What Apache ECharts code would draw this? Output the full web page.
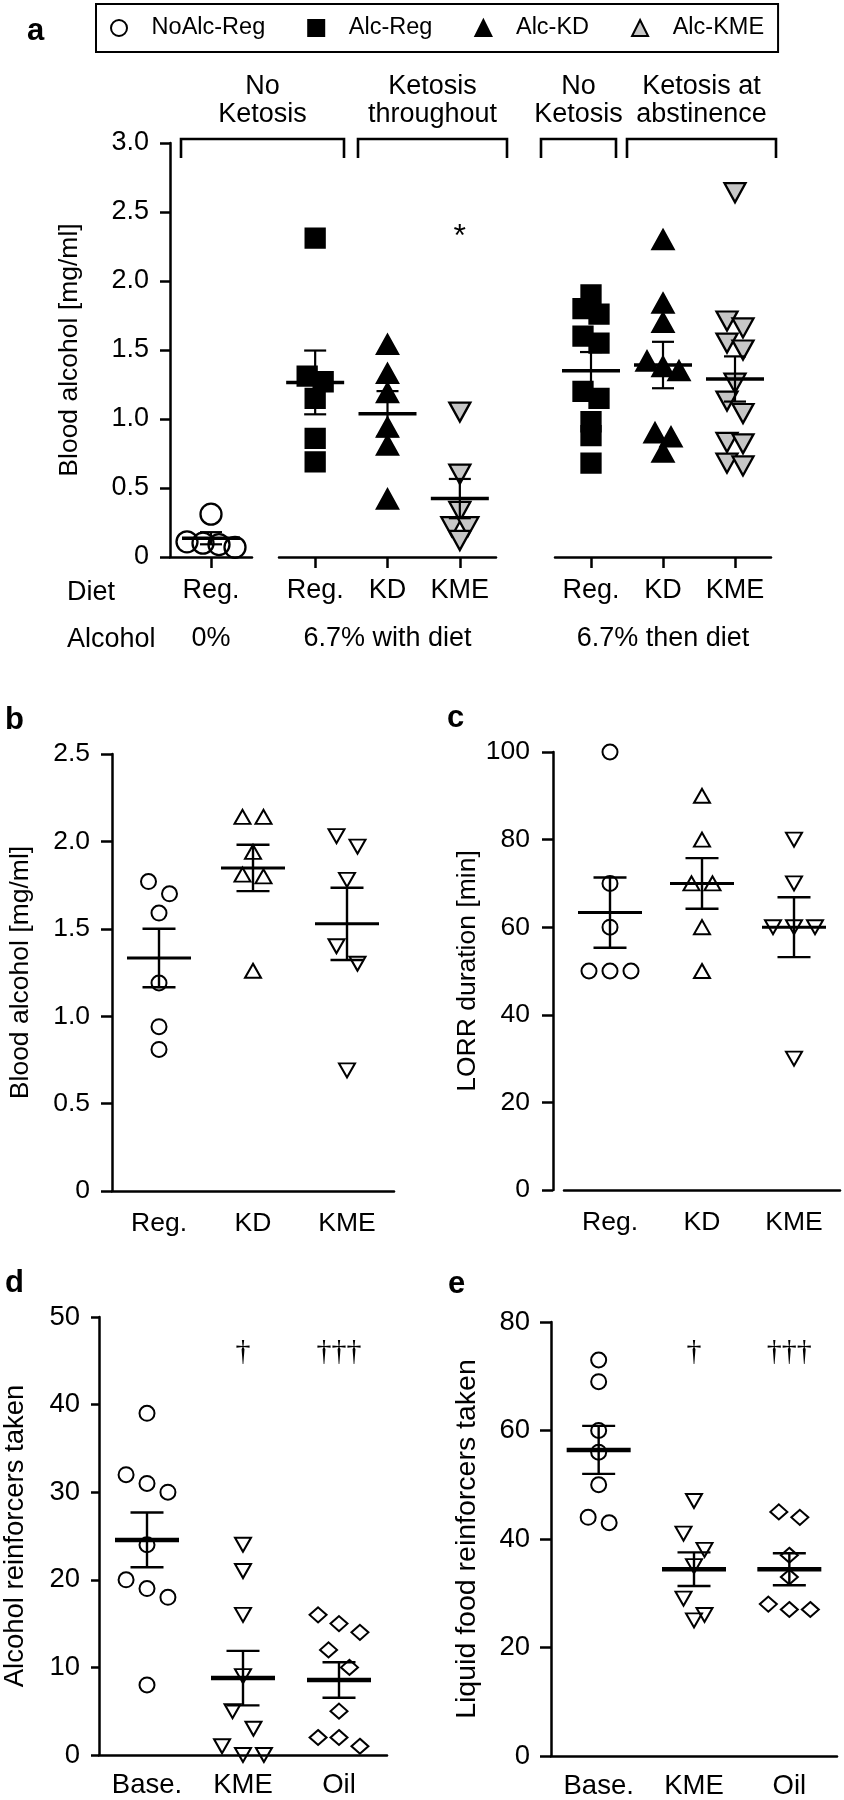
<!DOCTYPE html>
<html><head><meta charset="utf-8">
<script src="https://cdn.jsdelivr.net/npm/echarts@6/dist/echarts.min.js"></script>
<style>html,body{margin:0;padding:0;background:#fff}#chart{width:844px;height:1800px}</style>
</head><body><div id="chart"></div>
<script>
// ---------------- DATA ----------------
const legendNames = ['NoAlc-Reg', 'Alc-Reg', 'Alc-KD', 'Alc-KME'];
const dietCatsA1 = ['Reg.'];
const dietCatsA2 = ['Reg.', 'KD', 'KME'];
const dietCatsA3 = ['Reg.', 'KD', 'KME'];
const alcoholLabels = ['0%', '6.7% with diet', '6.7% then diet'];
const rowHeaders = ['Diet', 'Alcohol'];
const bracketLabels = ['No\nKetosis', 'Ketosis\nthroughout', 'No\nKetosis', 'Ketosis at\nabstinence'];
const aNoAlcReg   = [0.31, 0.11, 0.10, 0.09, 0.07];
const aAlcRegWith = [2.31, 1.31, 1.27, 1.15, 0.86, 0.69];
const aAlcKDWith  = [1.54, 1.33, 1.19, 0.94, 0.81, 0.42];
const aAlcKMEWith = [1.05, 0.60, 0.33, 0.22, 0.22, 0.12];
const aAlcRegThen = [1.90, 1.80, 1.76, 1.60, 1.55, 1.20, 1.15, 0.98, 0.88, 0.68];
const aAlcKDThen  = [2.30, 1.84, 1.70, 1.42, 1.38, 1.35, 0.90, 0.87, 0.76];
const aAlcKMEThen = [2.64, 1.71, 1.66, 1.55, 1.50, 1.26, 1.13, 1.04, 0.83, 0.82, 0.68, 0.66];
const aNotes = [{cat: 2, y: 2.32, text: '*'}];

const bCats = ['Reg.', 'KD', 'KME'];
const bReg = [1.77, 1.70, 1.59, 1.19, 0.94, 0.81];
const bKD  = [2.14, 2.14, 1.94, 1.81, 1.80, 1.26];
const bKME = [2.03, 1.97, 1.78, 1.40, 1.30, 0.69];

const cCats = ['Reg.', 'KD', 'KME'];
const cReg = [100, 70, 60, 50, 50, 50];
const cKD  = [90, 80, 70, 70, 60, 50];
const cKME = [80, 70, 60, 60, 60, 30];

const dCats = ['Base.', 'KME', 'Oil'];
const dBase = [39, 32, 31, 30, 24, 20, 19, 18, 8];
const dKME  = [24, 21, 16, 9, 5, 3, 1, 0, 0];
const dOil  = [16, 15, 14, 12, 10, 5, 2, 2, 1];
const dNotes = [{cat: 1, y: 46, text: '†'}, {cat: 2, y: 46, text: '†††'}];

const eCats = ['Base.', 'KME', 'Oil'];
const eBase = [73, 69, 60, 56, 50, 44, 43];
const eKME  = [47, 41, 38, 35, 29, 26, 25];
const eOil  = [45, 44, 37, 33, 28, 27, 27];
const eNotes = [{cat: 1, y: 74.5, text: '†'}, {cat: 2, y: 74.5, text: '†††'}];

// ---------------- STYLE / LAYOUT ----------------
const FONT = '"Liberation Sans", Arial, Helvetica, sans-serif';
const SERIF = '"Liberation Serif", "Times New Roman", serif';
const GRAY = '#c6c6c6';
const NONE = 'rgba(0,0,0,0)';

const grids = [], xAxis = [], yAxis = [], series = [];

function stats(v) {
  const n = v.length;
  const m = v.reduce((a, b) => a + b, 0) / n;
  const sd = Math.sqrt(v.reduce((a, b) => a + (b - m) * (b - m), 0) / (n - 1));
  return {m: m, sem: sd / Math.sqrt(n)};
}
// rows of near-equal values are spread side by side (scatter dot plot)
function swarm(values, pxPerUnit, threshPx, stepPx) {
  const idx = values.map((v, i) => i).sort((a, b) => values[b] - values[a]);
  const offs = new Array(values.length).fill(0);
  let row = [];
  const flush = () => { row.forEach((k, j) => { offs[k] = (j - (row.length - 1) / 2) * stepPx; }); row = []; };
  idx.forEach(k => {
    if (row.length && (values[row[0]] - values[k]) * pxPerUnit > threshPx) flush();
    row.push(k);
  });
  flush();
  return offs;
}
const fmt1 = v => (v === 0 ? '0' : v.toFixed(1));

function addPanel(p) {
  const gi = grids.length;
  grids.push({left: p.left, top: p.top, width: p.width, height: p.height});
  xAxis.push({
    type: 'category', gridIndex: gi, data: p.cats, boundaryGap: true, position: 'bottom',
    axisLine: {show: true, onZero: false, lineStyle: {color: '#000', width: 2.5}},
    axisTick: {show: !!p.xTick, alignWithLabel: true, length: 11, lineStyle: {color: '#000', width: 2.5}},
    axisLabel: {color: '#000', fontSize: p.fs, fontFamily: FONT, margin: p.xMargin, interval: 0},
    splitLine: {show: false},
    name: p.xName || '', nameLocation: 'middle', nameGap: p.xNameGap || 0,
    nameTextStyle: {color: '#000', fontSize: p.fs, fontFamily: FONT}
  });
  const valIdx = xAxis.length;
  xAxis.push({type: 'value', gridIndex: gi, min: -0.5, max: p.cats.length - 0.5, show: false,
    axisLine: {onZero: false}});
  const yi = yAxis.length;
  yAxis.push({
    type: 'value', gridIndex: gi, min: p.ymin, max: p.ymax, interval: p.yint, show: p.showY !== false,
    offset: p.yOffset || 0, position: 'left',
    axisLine: {show: true, onZero: false, lineStyle: {color: '#000', width: 2.5}},
    axisTick: {show: true, length: p.tickLen || 11, lineStyle: {color: '#000', width: 2.5}},
    axisLabel: {color: '#000', fontSize: p.fs, fontFamily: FONT, margin: p.yMargin, formatter: p.yFmt},
    splitLine: {show: false},
    name: p.yName || '', nameLocation: 'middle', nameRotate: 90, nameGap: p.yNameGap || 0,
    nameTextStyle: {color: '#000', fontSize: p.nameFs || p.fs, fontFamily: FONT}
  });
  const pxPerY = p.height / (p.ymax - p.ymin);
  const unitsPerPx = p.cats.length / p.width;
  const sums = [];
  p.groups.forEach((g, ci) => {
    const offs = swarm(g.values, pxPerY, p.thresh, p.step);
    series.push({
      type: 'scatter', name: g.name, xAxisIndex: valIdx, yAxisIndex: yi, silent: true, z: 2,
      symbol: g.symbol, symbolSize: g.size, symbolRotate: g.rotate || 0,
      itemStyle: {color: g.fill, borderColor: '#000', borderWidth: p.bw, opacity: 1},
      data: g.values.map((v, k) => [ci + offs[k] * unitsPerPx, v])
    });
    const s = stats(g.values);
    sums.push([ci, s.m, s.sem]);
  });
  series.push({
    type: 'custom', xAxisIndex: valIdx, yAxisIndex: yi, z: 5, silent: true, data: sums,
    renderItem: (params, api) => {
      const x = api.value(0), m = api.value(1), s = api.value(2);
      const pm = api.coord([x, m]), pt = api.coord([x, m + s]), pb = api.coord([x, m - s]);
      const st = w => ({stroke: '#000', lineWidth: w, lineCap: 'butt'});
      return {type: 'group', children: [
        {type: 'line', shape: {x1: pt[0], y1: pt[1], x2: pb[0], y2: pb[1]}, style: st(p.capW)},
        {type: 'line', shape: {x1: pt[0] - p.capHW, y1: pt[1], x2: pt[0] + p.capHW, y2: pt[1]}, style: st(p.capW)},
        {type: 'line', shape: {x1: pb[0] - p.capHW, y1: pb[1], x2: pb[0] + p.capHW, y2: pb[1]}, style: st(p.capW)},
        {type: 'line', shape: {x1: pm[0] - p.meanHW, y1: pm[1], x2: pm[0] + p.meanHW, y2: pm[1]}, style: st(p.meanW)}
      ]};
    }
  });
  if (p.notes) {
    series.push({
      type: 'custom', xAxisIndex: valIdx, yAxisIndex: yi, z: 6, silent: true,
      data: p.notes.map(n => [n.cat, n.y]),
      renderItem: (params, api) => {
        const c = api.coord([api.value(0), api.value(1)]);
        return {type: 'text', x: c[0], y: c[1], style: {
          text: p.notes[params.dataIndex].text, fill: '#000', font: p.noteFont,
          align: 'center', verticalAlign: 'middle'}};
      }
    });
  }
}

// ---- panel a (three axis segments) ----
const aCommon = {top: 143, height: 414, ymin: 0, ymax: 3, yint: 0.5, fs: 27, xTick: true, xMargin: 20,
  xNameGap: 68, bw: 2.3, thresh: 13, step: 16, meanHW: 29, meanW: 3.5, capHW: 11, capW: 2.2,
  yFmt: fmt1, noteFont: '32px ' + FONT};
const symA = {
  noalc: {symbol: 'circle', size: 21, fill: NONE},
  reg: {symbol: 'rect', size: 19, fill: '#000'},
  kd: {symbol: 'triangle', size: [21, 19], fill: '#000'},
  kme: {symbol: 'triangle', size: [21, 19], rotate: 180, fill: GRAY}
};
addPanel(Object.assign({}, aCommon, {left: 170, width: 82, cats: dietCatsA1, xName: alcoholLabels[0],
  yName: 'Blood alcohol [mg/ml]', nameFs: 26.5, yNameGap: 87, yMargin: 21, tickLen: 10,
  groups: [Object.assign({name: legendNames[0], values: aNoAlcReg}, symA.noalc)]}));
addPanel(Object.assign({}, aCommon, {left: 279, width: 217, cats: dietCatsA2, xName: alcoholLabels[1], showY: false,
  notes: aNotes,
  groups: [Object.assign({name: legendNames[1], values: aAlcRegWith}, symA.reg),
           Object.assign({name: legendNames[2], values: aAlcKDWith}, symA.kd),
           Object.assign({name: legendNames[3], values: aAlcKMEWith}, symA.kme)]}));
addPanel(Object.assign({}, aCommon, {left: 555, width: 216, cats: dietCatsA3, xName: alcoholLabels[2], showY: false,
  groups: [Object.assign({name: legendNames[1], values: aAlcRegThen}, symA.reg),
           Object.assign({name: legendNames[2], values: aAlcKDThen}, symA.kd),
           Object.assign({name: legendNames[3], values: aAlcKMEThen}, symA.kme)]}));

// ---- panels b-e ----
const openCircle = {symbol: 'circle', size: 15, fill: NONE};
const openTri = {symbol: 'triangle', size: [16, 14], fill: NONE};
const openInv = {symbol: 'triangle', size: [16, 14], rotate: 180, fill: NONE};
const openDia = {symbol: 'diamond', size: [17, 15], fill: NONE};
const small = {fs: 26.5, bw: 2, thresh: 19, step: 21, capHW: 16.5, capW: 2.4, meanHW: 32};

addPanel(Object.assign({}, small, {left: 112, top: 754, width: 282, height: 437, cats: bCats,
  ymin: 0, ymax: 2.5, yint: 0.5, yFmt: fmt1, yMargin: 22, xMargin: 19, meanW: 3,
  yName: 'Blood alcohol [mg/ml]', yNameGap: 78,
  groups: [Object.assign({name: 'b-Reg', values: bReg}, openCircle),
           Object.assign({name: 'b-KD', values: bKD}, openTri),
           Object.assign({name: 'b-KME', values: bKME}, openInv)]}));
addPanel(Object.assign({}, small, {left: 564, top: 752, width: 276, height: 438, cats: cCats, yOffset: 11,
  ymin: 0, ymax: 100, yint: 20, yMargin: 23, xMargin: 19, meanW: 3,
  yName: 'LORR duration [min]', yNameGap: 72,
  groups: [Object.assign({name: 'c-Reg', values: cReg}, openCircle),
           Object.assign({name: 'c-KD', values: cKD}, openTri),
           Object.assign({name: 'c-KME', values: cKME}, openInv)]}));
addPanel(Object.assign({}, small, {left: 98, top: 1317, width: 289, height: 438, cats: dCats,
  ymin: 0, ymax: 50, yint: 10, yMargin: 19, xMargin: 16, tickLen: 8, meanW: 4.5, fs: 27.5,
  yName: 'Alcohol reinforcers taken', yNameGap: 70, notes: dNotes, noteFont: '30px ' + SERIF,
  groups: [Object.assign({name: 'd-Base', values: dBase}, openCircle),
           Object.assign({name: 'd-KME', values: dKME}, openInv),
           Object.assign({name: 'd-Oil', values: dOil}, openDia)]}));
addPanel(Object.assign({}, small, {left: 551, top: 1322, width: 286, height: 439, cats: eCats,
  ymin: 0, ymax: 80, yint: 20, yMargin: 21, xMargin: 16, meanW: 4.5, fs: 27.5, nameFs: 28.5,
  yName: 'Liquid food reinforcers taken', yNameGap: 69, notes: eNotes, noteFont: '30px ' + SERIF,
  groups: [Object.assign({name: 'e-Base', values: eBase}, openCircle),
           Object.assign({name: 'e-KME', values: eKME}, openInv),
           Object.assign({name: 'e-Oil', values: eOil}, openDia)]}));

// ---- annotations (panel letters, row headers, brackets) ----
const BRACKET_X = [[181, 344], [358, 507], [541, 616], [627, 776]];
const graphic = [];
[['a', 27, 31], ['b', 5, 720], ['c', 447, 718], ['d', 5, 1283], ['e', 448, 1284]].forEach(l => {
  graphic.push({type: 'text', x: l[1], y: l[2], style: {text: l[0], fill: '#000', font: 'bold 31px ' + FONT,
    align: 'left', verticalAlign: 'middle'}});
});
rowHeaders.forEach((t, i) => {
  graphic.push({type: 'text', x: 67, y: [593, 640][i], style: {text: t, fill: '#000', font: '27px ' + FONT, align: 'left', verticalAlign: 'middle'}});
});
BRACKET_X.forEach((b, i) => {
  graphic.push({type: 'polyline', shape: {points: [[b[0], 158], [b[0], 139], [b[1], 139], [b[1], 158]]},
    style: {stroke: '#000', lineWidth: 2.6, fill: null}});
  graphic.push({type: 'text', x: (b[0] + b[1]) / 2, y: 101, style: {text: bracketLabels[i], fill: '#000',
    font: '27px ' + FONT, align: 'center', verticalAlign: 'middle', lineHeight: 28}});
});

const chart = echarts.init(document.getElementById('chart'), null, {renderer: 'canvas'});
chart.setOption({
  animation: false,
  backgroundColor: '#fff',
  textStyle: {fontFamily: FONT, color: '#000'},
  legend: {
    data: legendNames, left: 96, top: 4, orient: 'horizontal', selectedMode: false,
    padding: [12, 14, 12, 14], itemGap: 42, itemWidth: 16, itemHeight: 16,
    borderColor: '#000', borderWidth: 2,
    formatter: n => '   ' + n,
    textStyle: {fontSize: 23.5, color: '#000', fontFamily: FONT}
  },
  grid: grids, xAxis: xAxis, yAxis: yAxis, series: series, graphic: graphic
});
</script></body></html>
